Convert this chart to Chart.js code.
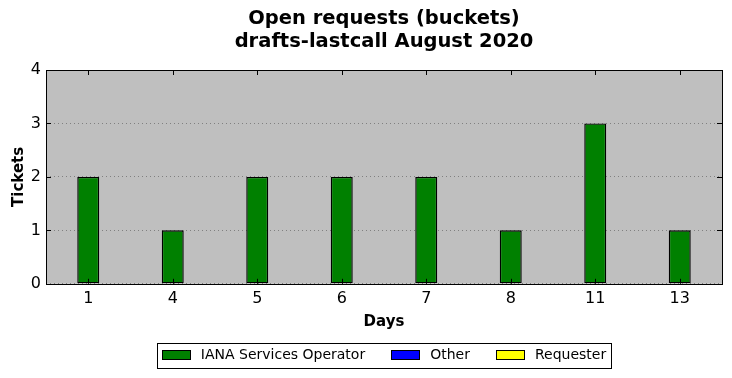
<!DOCTYPE html>
<html>
<head>
<meta charset="utf-8">
<script src="https://cdn.jsdelivr.net/npm/chart.js@4/dist/chart.umd.min.js"></script>
<style>
  html, body { margin: 0; padding: 0; background: #ffffff; }
  #wrap { width: 732px; height: 378px; }
</style>
</head>
<body>
<div id="wrap"><canvas id="ticketsChart" width="732" height="378"></canvas></div>
<script>
// chart data
const days = ['1', '4', '5', '6', '7', '8', '11', '13'];
const ianaOperator = [2, 1, 2, 2, 2, 1, 3, 1];
const other = [0, 0, 0, 0, 0, 0, 0, 0];
const requester = [0, 0, 0, 0, 0, 0, 0, 0];
const yTicks = [0, 1, 2, 3, 4];
const titleLines = ['Open requests (buckets)', 'drafts-lastcall August 2020'];

const FONT = '"DejaVu Sans", sans-serif';
Chart.defaults.font.family = FONT;
Chart.defaults.color = '#000000';

// title centred over the plot area (like matplotlib), not over the canvas
const titlePlugin = {
    id: 'axesTitle',
    afterDraw(chart) {
        const ctx = chart.ctx;
        const a = chart.chartArea;
        const cx = (a.left + a.right) / 2;
        ctx.save();
        ctx.fillStyle = '#000000';
        ctx.font = 'bold 19.5px ' + FONT;
        ctx.textAlign = 'center';
        ctx.textBaseline = 'middle';
        titleLines.forEach((line, i) => ctx.fillText(line, cx, 19 + i * 22.5));
        ctx.restore();
    }
};

// legend under the axes, boxed, built from the datasets
const legendPlugin = {
    id: 'boxLegend',
    afterDraw(chart) {
        const ctx = chart.ctx;
        const a = chart.chartArea;
        const boxW = 28, boxH = 9, textGap = 11, itemGap = 26, pad = 6;
        ctx.save();
        ctx.font = '14px ' + FONT;
        const items = chart.data.datasets.map(ds => ({
            label: ds.label,
            color: ds.backgroundColor,
            w: boxW + textGap + ctx.measureText(ds.label).width
        }));
        const total = items.reduce((s, it) => s + it.w, 0) + itemGap * (items.length - 1);
        let x = (a.left + a.right) / 2 - total / 2;
        const cy = 355;
        ctx.strokeStyle = '#000000';
        ctx.lineWidth = 1;
        ctx.strokeRect(Math.round(x - pad) + 1.5, 343.5, Math.round(total + pad * 2 - 2), 25);
        ctx.textBaseline = 'middle';
        items.forEach(it => {
            ctx.fillStyle = it.color;
            ctx.fillRect(Math.round(x), cy - 5, boxW, boxH);
            ctx.strokeRect(Math.round(x) + 0.5, cy - 4.5, boxW, boxH);
            ctx.fillStyle = '#000000';
            ctx.fillText(it.label, x + boxW + textGap, cy);
            x += it.w + itemGap;
        });
        ctx.restore();
    }
};

// matplotlib-ish frame: box around plot, inward ticks on all four sides
const framePlugin = {
    id: 'frame',
    afterDatasetsDraw(chart) {
        const ctx = chart.ctx;
        const area = chart.chartArea;
        const xs = chart.scales.x;
        const ys = chart.scales.y;
        ctx.save();
        ctx.strokeStyle = '#000000';
        ctx.lineWidth = 1;
        ctx.strokeRect(Math.round(area.left) + 0.5, Math.round(area.top) + 0.5,
            Math.round(area.right - area.left), Math.round(area.bottom - area.top));
        const len = 5;
        ctx.beginPath();
        xs.ticks.forEach((t, i) => {
            const x = Math.round(xs.getPixelForTick(i)) + 0.5;
            ctx.moveTo(x, area.bottom); ctx.lineTo(x, area.bottom - len);
            ctx.moveTo(x, area.top); ctx.lineTo(x, area.top + len);
        });
        ys.ticks.forEach((t, i) => {
            const y = Math.round(ys.getPixelForTick(i)) + 0.5;
            ctx.moveTo(area.left, y); ctx.lineTo(area.left + len, y);
            ctx.moveTo(area.right, y); ctx.lineTo(area.right - len, y);
        });
        ctx.stroke();
        ctx.restore();
    }
};

const plotBackground = {
    id: 'plotBackground',
    beforeDraw(chart) {
        const a = chart.chartArea;
        chart.ctx.save();
        chart.ctx.fillStyle = '#bfbfbf';
        chart.ctx.fillRect(a.left, a.top, a.right - a.left, a.bottom - a.top);
        chart.ctx.restore();
    }
};

const ctx = document.getElementById('ticketsChart').getContext('2d');

new Chart(ctx, {
    type: 'bar',
    data: {
        labels: days,
        datasets: [
            { label: 'IANA Services Operator', data: ianaOperator, backgroundColor: '#008000' },
            { label: 'Other', data: other, backgroundColor: '#0000ff' },
            { label: 'Requester', data: requester, backgroundColor: '#ffff00' }
        ].map(ds => Object.assign(ds, {
            borderColor: '#000000',
            borderWidth: 1.4,
            borderSkipped: false,
            barPercentage: 0.26,
            categoryPercentage: 1.0
        }))
    },
    options: {
        responsive: false,
        animation: false,
        layout: { padding: { left: 4, right: 10, top: 70, bottom: 47 } },
        plugins: {
            title: { display: false },
            legend: { display: false },
            tooltip: { enabled: false }
        },
        scales: {
            x: {
                stacked: true,
                offset: true,
                grid: { display: false, drawTicks: false },
                border: { display: false },
                ticks: { font: { size: 16 }, padding: 5 },
                title: {
                    display: true,
                    text: 'Days',
                    font: { size: 15, weight: 'bold' },
                    padding: { top: 0, bottom: 0 }
                }
            },
            y: {
                stacked: true,
                min: 0,
                max: 4,
                afterBuildTicks(axis) {
                    axis.ticks = yTicks.map(v => ({ value: v }));
                },
                grid: {
                    color: '#808080',
                    lineWidth: 1,
                    drawTicks: false
                },
                border: { display: false, dash: [1, 3] },
                ticks: { font: { size: 16 }, padding: 5 },
                title: {
                    display: true,
                    text: 'Tickets',
                    font: { size: 15, weight: 'bold' },
                    padding: { top: 6, bottom: 6 }
                },
                afterFit(axis) { axis.width = 42; }
            }
        }
    },
    plugins: [plotBackground, framePlugin, titlePlugin, legendPlugin]
});
</script>
</body>
</html>
